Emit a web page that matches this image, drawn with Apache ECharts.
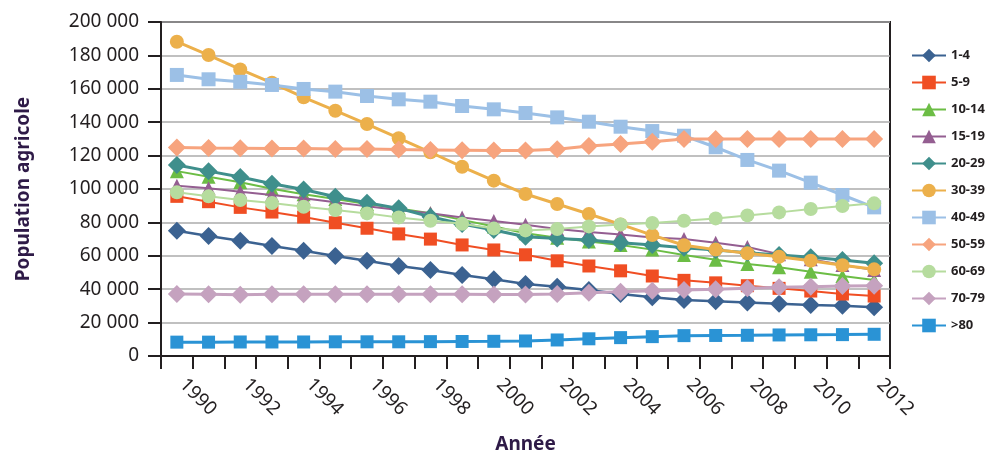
<!DOCTYPE html>
<html>
<head>
<meta charset="utf-8">
<script src="https://cdn.jsdelivr.net/npm/echarts@6/dist/echarts.min.js"></script>
<style>
html,body{margin:0;padding:0;background:#fff;}
#c{width:986px;height:455px;}
</style>
</head>
<body>
<div id="c"></div>
<script>
const years = ['1990','1991','1992','1993','1994','1995','1996','1997','1998','1999','2000','2001','2002','2003','2004','2005','2006','2007','2008','2009','2010','2011','2012'];
const seriesNames = ['1-4','5-9','10-14','15-19','20-29','30-39','40-49','50-59','60-69','70-79','>80'];
const a1_4 = [75000,71900,69000,65900,63000,59900,57100,53900,51500,48500,45900,43100,41500,39500,37100,35200,33600,32800,32100,31300,30600,30100,29200];
const a5_9 = [95600,92400,89000,86200,83200,79800,76500,73100,70000,66500,63500,60600,57000,53900,51000,47900,45300,43800,42100,40500,38900,37100,35900];
const a10_14 = [110700,107400,104100,100100,96900,94000,91000,88400,85500,81500,77500,73500,70800,68500,66500,63700,60500,57700,55100,53100,50500,47900,45500];
const a15_19 = [102000,100500,98400,96400,94400,92000,89600,87400,85500,83000,80800,78600,76000,74200,72700,71000,70000,67800,65300,61000,58000,54500,51500];
const a20_29 = [114400,110700,107200,103100,99700,95400,91800,88400,83400,79000,75400,71400,70400,69400,67800,66400,64800,63400,61900,60500,59100,57500,55500];
const a30_39 = [188200,180200,171600,163600,154900,146900,138900,130400,122000,113300,105000,97000,91000,85000,78800,72400,66300,63700,61500,59400,57100,54300,51900];
const a40_49 = [168300,165700,164200,162300,159900,158300,155700,153700,152300,149700,147700,145500,142900,140300,137300,134700,131900,125000,117400,111000,103800,96400,89000];
const a50_59 = [124800,124500,124400,124300,124200,124000,123900,123600,123400,123200,123000,123000,123800,125700,127000,128300,130000,130000,130000,130000,130000,130000,130000];
const a60_69 = [98000,95600,93400,91600,89400,87400,85400,83000,81000,79200,76400,75200,76000,77600,78800,79600,81000,82400,84200,86000,88000,89800,91400];
const a70_79 = [37200,37000,36700,37000,37000,37000,37000,37000,37000,37000,36800,36800,37100,37900,38500,39100,39500,39900,40500,41100,41500,41900,42100];
const a80 = [8300,8300,8400,8400,8400,8500,8500,8500,8600,8700,8800,9000,9600,10300,11000,11600,12200,12300,12400,12600,12700,12800,13000];
const yTitle = 'Population agricole';
const xTitle = 'Année';

const dataList = [a1_4,a5_9,a10_14,a15_19,a20_29,a30_39,a40_49,a50_59,a60_69,a70_79,a80];
const colors = ['#3b6291','#f04e23','#6cbd45','#945e91','#3f8f8c','#ecb04b','#9cc0e6','#f7a47e','#b6dc9e','#c5a2bf','#2a93d5'];
const symbols = ['diamond','rect','triangle','triangle','diamond','circle','rect','diamond','circle','diamond','rect'];
const sizes = [18,13,14,14,18,14,14,18,14,18,13];
const widths = [2.5,2,2,2,3,3,3,3,2,3,3];

const FONT = '"Noto Sans", sans-serif';
const chart = echarts.init(document.getElementById('c'), null, {renderer:'canvas'});
const series = seriesNames.map((n,i)=>({
  name:n, type:'line', data:dataList[i],
  symbol:symbols[i], symbolSize:sizes[i], showAllSymbol:true,
  itemStyle:{color:colors[i], opacity:1},
  lineStyle:{color:colors[i], width:widths[i]},
  animation:false, z:2+i
}));
chart.setOption({
  animation:false,
  textStyle:{fontFamily:FONT},
  grid:{left:161, right:96, top:22, bottom:99, outerBoundsMode:'none', containLabel:false,
    show:true, borderColor:'#231f20', borderWidth:2, backgroundColor:'transparent'},
  legend:{
    orient:'vertical', left:906, top:42, itemWidth:34, itemHeight:17, itemGap:10,
    textStyle:{fontFamily:FONT, fontSize:13, fontWeight:'bold', color:'#231f20', lineHeight:17},
    data:seriesNames
  },
  xAxis:{
    type:'category', data:years, boundaryGap:true,
    name:xTitle, nameLocation:'middle', nameGap:79,
    nameTextStyle:{fontFamily:FONT, fontSize:19, fontWeight:'bold', color:'#2e1a47'},
    axisLine:{show:true, lineStyle:{color:'#231f20', width:2}},
    axisTick:{show:true, interval:0, length:13, lineStyle:{color:'#231f20', width:2}},
    axisLabel:{interval:1, rotate:-45, margin:20, padding:[0,0,0,8], fontFamily:FONT, fontSize:19, color:'#231f20'},
    splitLine:{show:false}
  },
  yAxis:{
    type:'value', min:0, max:200000, interval:20000,
    name:yTitle, nameLocation:'middle', nameRotate:90, nameGap:128,
    nameTextStyle:{fontFamily:FONT, fontSize:19, fontWeight:'bold', color:'#2e1a47'},
    axisLine:{show:true, lineStyle:{color:'#231f20', width:2}},
    axisTick:{show:true, inside:false, length:13, lineStyle:{color:'#231f20', width:2}},
    axisLabel:{margin:22, fontFamily:FONT, fontSize:19, color:'#231f20',
      formatter:v=>String(v).replace(/\B(?=(\d{3})+(?!\d))/g,' ')},
    splitLine:{show:true, lineStyle:{color:'#ababab', width:1.5}}
  },
  series:series
});
</script>
</body>
</html>
